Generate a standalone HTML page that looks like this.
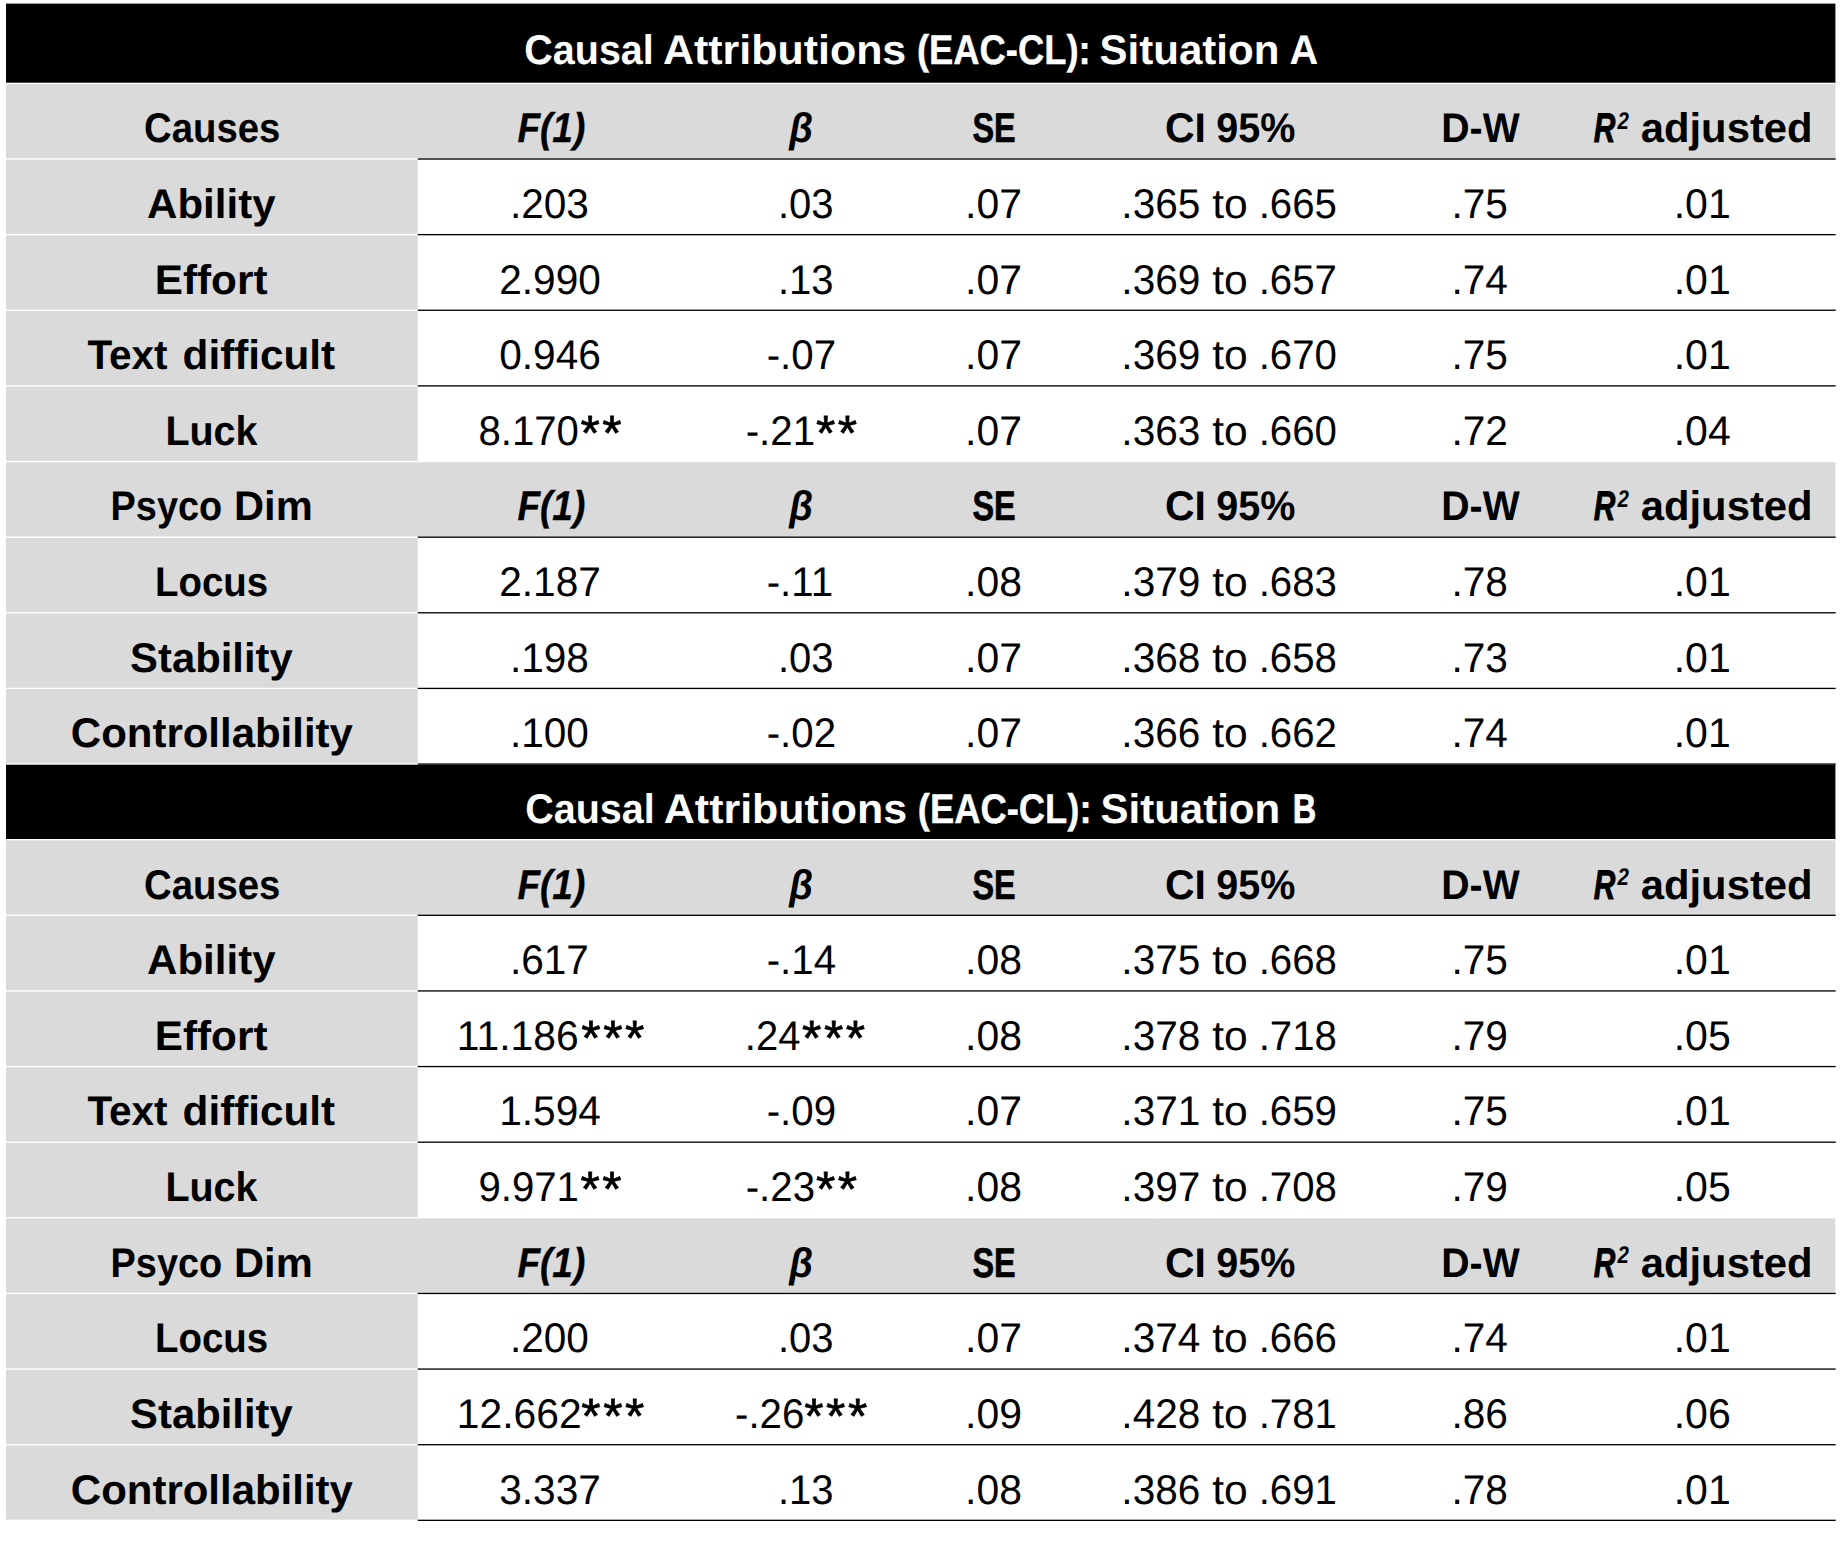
<!DOCTYPE html>
<html lang="en"><head><meta charset="utf-8"><title>Causal Attributions (EAC-CL)</title>
<style>html,body{margin:0;padding:0;background:#fff}body{width:1842px;height:1543px;overflow:hidden}svg{display:block}text{font-family:"Liberation Sans","DejaVu Sans",sans-serif;font-size:41.4px;fill:#000;white-space:pre;text-rendering:geometricPrecision}.b{font-weight:700}.bi{font-weight:700;font-style:italic}.w{fill:#fff}.st{font-size:49.6px;stroke:#000;stroke-width:.7px}.sup{font-size:24px}.k{stroke:currentColor}.w .k{stroke:#fff}</style></head><body>
<svg width="1842" height="1543" viewBox="0 0 1842 1543">
<g shape-rendering="auto">
<rect x="6" y="3.60" width="1829.4" height="79.77" fill="#000"/>
<rect x="6" y="83.37" width="1829.4" height="75.63" fill="#dadada"/>
<rect x="6" y="159.00" width="411.75" height="75.63" fill="#dadada"/>
<rect x="6" y="234.63" width="411.75" height="75.63" fill="#dadada"/>
<rect x="6" y="310.26" width="411.75" height="75.63" fill="#dadada"/>
<rect x="6" y="385.89" width="411.75" height="75.63" fill="#dadada"/>
<rect x="6" y="461.52" width="1829.4" height="75.63" fill="#dadada"/>
<rect x="6" y="537.15" width="411.75" height="75.63" fill="#dadada"/>
<rect x="6" y="612.78" width="411.75" height="75.63" fill="#dadada"/>
<rect x="6" y="688.41" width="411.75" height="75.63" fill="#dadada"/>
<rect x="6" y="764.04" width="1829.4" height="75.63" fill="#000"/>
<rect x="6" y="839.67" width="1829.4" height="75.63" fill="#dadada"/>
<rect x="6" y="915.30" width="411.75" height="75.63" fill="#dadada"/>
<rect x="6" y="990.93" width="411.75" height="75.63" fill="#dadada"/>
<rect x="6" y="1066.56" width="411.75" height="75.63" fill="#dadada"/>
<rect x="6" y="1142.19" width="411.75" height="75.63" fill="#dadada"/>
<rect x="6" y="1217.82" width="1829.4" height="75.63" fill="#dadada"/>
<rect x="6" y="1293.45" width="411.75" height="75.63" fill="#dadada"/>
<rect x="6" y="1369.08" width="411.75" height="75.63" fill="#dadada"/>
<rect x="6" y="1444.71" width="411.75" height="75.63" fill="#dadada"/>
<rect x="6" y="82.70" width="1829.4" height="1.33" fill="#fff"/>
<rect x="6" y="158.34" width="1829.4" height="1.33" fill="#fff"/>
<rect x="417.75" y="158.34" width="1417.95" height="1.33" fill="#000"/>
<rect x="6" y="233.97" width="1829.4" height="1.33" fill="#fff"/>
<rect x="417.75" y="233.97" width="1417.95" height="1.33" fill="#000"/>
<rect x="6" y="309.59" width="1829.4" height="1.33" fill="#fff"/>
<rect x="417.75" y="309.59" width="1417.95" height="1.33" fill="#000"/>
<rect x="6" y="385.22" width="1829.4" height="1.33" fill="#fff"/>
<rect x="417.75" y="385.22" width="1417.95" height="1.33" fill="#000"/>
<rect x="6" y="460.85" width="1829.4" height="1.33" fill="#fff"/>
<rect x="6" y="536.49" width="1829.4" height="1.33" fill="#fff"/>
<rect x="417.75" y="536.49" width="1417.95" height="1.33" fill="#000"/>
<rect x="6" y="612.12" width="1829.4" height="1.33" fill="#fff"/>
<rect x="417.75" y="612.12" width="1417.95" height="1.33" fill="#000"/>
<rect x="6" y="687.75" width="1829.4" height="1.33" fill="#fff"/>
<rect x="417.75" y="687.75" width="1417.95" height="1.33" fill="#000"/>
<rect x="6" y="763.38" width="1829.4" height="1.33" fill="#fff"/>
<rect x="417.75" y="763.38" width="1417.95" height="1.33" fill="#000"/>
<rect x="6" y="839.00" width="1829.4" height="1.33" fill="#fff"/>
<rect x="6" y="914.63" width="1829.4" height="1.33" fill="#fff"/>
<rect x="417.75" y="914.63" width="1417.95" height="1.33" fill="#000"/>
<rect x="6" y="990.26" width="1829.4" height="1.33" fill="#fff"/>
<rect x="417.75" y="990.26" width="1417.95" height="1.33" fill="#000"/>
<rect x="6" y="1065.89" width="1829.4" height="1.33" fill="#fff"/>
<rect x="417.75" y="1065.89" width="1417.95" height="1.33" fill="#000"/>
<rect x="6" y="1141.53" width="1829.4" height="1.33" fill="#fff"/>
<rect x="417.75" y="1141.53" width="1417.95" height="1.33" fill="#000"/>
<rect x="6" y="1217.15" width="1829.4" height="1.33" fill="#fff"/>
<rect x="6" y="1292.78" width="1829.4" height="1.33" fill="#fff"/>
<rect x="417.75" y="1292.78" width="1417.95" height="1.33" fill="#000"/>
<rect x="6" y="1368.41" width="1829.4" height="1.33" fill="#fff"/>
<rect x="417.75" y="1368.41" width="1417.95" height="1.33" fill="#000"/>
<rect x="6" y="1444.05" width="1829.4" height="1.33" fill="#fff"/>
<rect x="417.75" y="1444.05" width="1417.95" height="1.33" fill="#000"/>
<rect x="6" y="1519.67" width="1829.4" height="1.33" fill="#fff"/>
<rect x="417.75" y="1519.67" width="1417.95" height="1.33" fill="#000"/>
</g>
<text class="b w" y="63.70"><tspan x="524.25" textLength="129.54" lengthAdjust="spacingAndGlyphs">Causal</tspan> <tspan x="662.96" textLength="243.30" lengthAdjust="spacingAndGlyphs">Attributions</tspan> <tspan x="916.94" textLength="173.68" lengthAdjust="spacingAndGlyphs" stroke-width="0.39" class="k">(EAC-CL):</tspan> <tspan x="1099.58" textLength="179.73" lengthAdjust="spacingAndGlyphs">Situation</tspan> <tspan x="1289.44" textLength="28.72" lengthAdjust="spacingAndGlyphs">A</tspan></text>
<text class="b" y="142.30"><tspan x="144.07" textLength="136.27" lengthAdjust="spacingAndGlyphs">Causes</tspan></text>
<text class="bi" y="142.30"><tspan x="517.40" textLength="67.90" lengthAdjust="spacingAndGlyphs" stroke-width="0.34" class="k">F(1)</tspan></text>
<text class="bi" y="142.30"><tspan x="789.32" textLength="23.71" lengthAdjust="spacingAndGlyphs">β</tspan></text>
<text class="b" y="142.30"><tspan x="972.42" textLength="43.24" lengthAdjust="spacingAndGlyphs" stroke-width="0.69" class="k">SE</tspan></text>
<text class="b" y="142.30"><tspan x="1165.01" textLength="40.96" lengthAdjust="spacingAndGlyphs">CI</tspan> <tspan x="1216.24" textLength="79.12" lengthAdjust="spacingAndGlyphs">95%</tspan></text>
<text class="b" y="142.30"><tspan x="1441.30" textLength="78.41" lengthAdjust="spacingAndGlyphs">D-W</tspan></text>
<text class="b" y="142.30"><tspan x="1593.80" textLength="21.62" lengthAdjust="spacingAndGlyphs" class="bi" stroke-width="0.89" stroke="#000">R</tspan><tspan class="bi sup" x="1617.45" y="129.00" textLength="11.39" lengthAdjust="spacingAndGlyphs">2</tspan> <tspan x="1640.69" y="142.30" textLength="171.92" lengthAdjust="spacingAndGlyphs">adjusted</tspan></text>
<text class="b" y="217.93"><tspan x="147.08" textLength="128.44" lengthAdjust="spacingAndGlyphs">Ability</tspan></text>
<text y="217.93"><tspan x="509.96" textLength="78.94" lengthAdjust="spacingAndGlyphs">.203</tspan></text>
<text y="217.93"><tspan x="778.00" textLength="55.58" lengthAdjust="spacingAndGlyphs">.03</tspan></text>
<text y="217.93"><tspan x="965.04" textLength="56.86" lengthAdjust="spacingAndGlyphs">.07</tspan></text>
<text y="217.93"><tspan x="1121.36" textLength="78.94" lengthAdjust="spacingAndGlyphs">.365</tspan> <tspan x="1212.20" textLength="35.55" lengthAdjust="spacingAndGlyphs">to</tspan> <tspan x="1258.69" textLength="78.20" lengthAdjust="spacingAndGlyphs">.665</tspan></text>
<text y="217.93"><tspan x="1451.46" textLength="56.44" lengthAdjust="spacingAndGlyphs">.75</tspan></text>
<text y="217.93"><tspan x="1673.73" textLength="56.98" lengthAdjust="spacingAndGlyphs">.01</tspan></text>
<text class="b" y="293.56"><tspan x="154.76" textLength="112.72" lengthAdjust="spacingAndGlyphs">Effort</tspan></text>
<text y="293.56"><tspan x="499.24" textLength="101.56" lengthAdjust="spacingAndGlyphs">2.990</tspan></text>
<text y="293.56"><tspan x="778.00" textLength="55.58" lengthAdjust="spacingAndGlyphs">.13</tspan></text>
<text y="293.56"><tspan x="965.04" textLength="56.86" lengthAdjust="spacingAndGlyphs">.07</tspan></text>
<text y="293.56"><tspan x="1121.36" textLength="78.94" lengthAdjust="spacingAndGlyphs">.369</tspan> <tspan x="1212.20" textLength="35.55" lengthAdjust="spacingAndGlyphs">to</tspan> <tspan x="1258.69" textLength="78.20" lengthAdjust="spacingAndGlyphs">.657</tspan></text>
<text y="293.56"><tspan x="1451.46" textLength="56.44" lengthAdjust="spacingAndGlyphs">.74</tspan></text>
<text y="293.56"><tspan x="1673.73" textLength="56.98" lengthAdjust="spacingAndGlyphs">.01</tspan></text>
<text class="b" y="369.19"><tspan x="87.40" textLength="80.19" lengthAdjust="spacingAndGlyphs">Text</tspan> <tspan x="182.58" textLength="152.60" lengthAdjust="spacingAndGlyphs">difficult</tspan></text>
<text y="369.19"><tspan x="499.24" textLength="101.56" lengthAdjust="spacingAndGlyphs">0.946</tspan></text>
<text y="369.19"><tspan x="766.73" textLength="69.34" lengthAdjust="spacingAndGlyphs">-.07</tspan></text>
<text y="369.19"><tspan x="965.04" textLength="56.86" lengthAdjust="spacingAndGlyphs">.07</tspan></text>
<text y="369.19"><tspan x="1121.36" textLength="78.94" lengthAdjust="spacingAndGlyphs">.369</tspan> <tspan x="1212.20" textLength="35.55" lengthAdjust="spacingAndGlyphs">to</tspan> <tspan x="1258.69" textLength="78.20" lengthAdjust="spacingAndGlyphs">.670</tspan></text>
<text y="369.19"><tspan x="1451.46" textLength="56.44" lengthAdjust="spacingAndGlyphs">.75</tspan></text>
<text y="369.19"><tspan x="1673.73" textLength="56.98" lengthAdjust="spacingAndGlyphs">.01</tspan></text>
<text class="b" y="444.82"><tspan x="165.39" textLength="92.17" lengthAdjust="spacingAndGlyphs">Luck</tspan></text>
<text y="444.82"><tspan x="478.53" textLength="100.36" lengthAdjust="spacingAndGlyphs">8.170</tspan><tspan class="st" x="580.45 602.35" y="449.57">**</tspan></text>
<text y="444.82"><tspan x="745.73" textLength="69.34" lengthAdjust="spacingAndGlyphs">-.21</tspan><tspan class="st" x="815.95 837.85" y="449.57">**</tspan></text>
<text y="444.82"><tspan x="965.04" textLength="56.86" lengthAdjust="spacingAndGlyphs">.07</tspan></text>
<text y="444.82"><tspan x="1121.36" textLength="78.94" lengthAdjust="spacingAndGlyphs">.363</tspan> <tspan x="1212.20" textLength="35.55" lengthAdjust="spacingAndGlyphs">to</tspan> <tspan x="1258.69" textLength="78.20" lengthAdjust="spacingAndGlyphs">.660</tspan></text>
<text y="444.82"><tspan x="1451.46" textLength="56.44" lengthAdjust="spacingAndGlyphs">.72</tspan></text>
<text y="444.82"><tspan x="1673.73" textLength="56.98" lengthAdjust="spacingAndGlyphs">.04</tspan></text>
<text class="b" y="520.45"><tspan x="110.57" textLength="111.60" lengthAdjust="spacingAndGlyphs">Psyco</tspan> <tspan x="233.99" textLength="78.73" lengthAdjust="spacingAndGlyphs">Dim</tspan></text>
<text class="bi" y="520.45"><tspan x="517.40" textLength="67.90" lengthAdjust="spacingAndGlyphs" stroke-width="0.34" class="k">F(1)</tspan></text>
<text class="bi" y="520.45"><tspan x="789.32" textLength="23.71" lengthAdjust="spacingAndGlyphs">β</tspan></text>
<text class="b" y="520.45"><tspan x="972.42" textLength="43.24" lengthAdjust="spacingAndGlyphs" stroke-width="0.69" class="k">SE</tspan></text>
<text class="b" y="520.45"><tspan x="1165.01" textLength="40.96" lengthAdjust="spacingAndGlyphs">CI</tspan> <tspan x="1216.24" textLength="79.12" lengthAdjust="spacingAndGlyphs">95%</tspan></text>
<text class="b" y="520.45"><tspan x="1441.30" textLength="78.41" lengthAdjust="spacingAndGlyphs">D-W</tspan></text>
<text class="b" y="520.45"><tspan x="1593.80" textLength="21.62" lengthAdjust="spacingAndGlyphs" class="bi" stroke-width="0.89" stroke="#000">R</tspan><tspan class="bi sup" x="1617.45" y="507.15" textLength="11.39" lengthAdjust="spacingAndGlyphs">2</tspan> <tspan x="1640.69" y="520.45" textLength="171.92" lengthAdjust="spacingAndGlyphs">adjusted</tspan></text>
<text class="b" y="596.08"><tspan x="154.94" textLength="113.20" lengthAdjust="spacingAndGlyphs">Locus</tspan></text>
<text y="596.08"><tspan x="499.24" textLength="101.56" lengthAdjust="spacingAndGlyphs">2.187</tspan></text>
<text y="596.08"><tspan x="766.73" textLength="66.35" lengthAdjust="spacingAndGlyphs">-.11</tspan></text>
<text y="596.08"><tspan x="965.04" textLength="56.86" lengthAdjust="spacingAndGlyphs">.08</tspan></text>
<text y="596.08"><tspan x="1121.36" textLength="78.94" lengthAdjust="spacingAndGlyphs">.379</tspan> <tspan x="1212.20" textLength="35.55" lengthAdjust="spacingAndGlyphs">to</tspan> <tspan x="1258.69" textLength="78.20" lengthAdjust="spacingAndGlyphs">.683</tspan></text>
<text y="596.08"><tspan x="1451.46" textLength="56.44" lengthAdjust="spacingAndGlyphs">.78</tspan></text>
<text y="596.08"><tspan x="1673.73" textLength="56.98" lengthAdjust="spacingAndGlyphs">.01</tspan></text>
<text class="b" y="671.71"><tspan x="130.09" textLength="162.63" lengthAdjust="spacingAndGlyphs">Stability</tspan></text>
<text y="671.71"><tspan x="509.96" textLength="78.94" lengthAdjust="spacingAndGlyphs">.198</tspan></text>
<text y="671.71"><tspan x="778.00" textLength="55.58" lengthAdjust="spacingAndGlyphs">.03</tspan></text>
<text y="671.71"><tspan x="965.04" textLength="56.86" lengthAdjust="spacingAndGlyphs">.07</tspan></text>
<text y="671.71"><tspan x="1121.36" textLength="78.94" lengthAdjust="spacingAndGlyphs">.368</tspan> <tspan x="1212.20" textLength="35.55" lengthAdjust="spacingAndGlyphs">to</tspan> <tspan x="1258.69" textLength="78.20" lengthAdjust="spacingAndGlyphs">.658</tspan></text>
<text y="671.71"><tspan x="1451.46" textLength="56.44" lengthAdjust="spacingAndGlyphs">.73</tspan></text>
<text y="671.71"><tspan x="1673.73" textLength="56.98" lengthAdjust="spacingAndGlyphs">.01</tspan></text>
<text class="b" y="747.34"><tspan x="70.89" textLength="282.03" lengthAdjust="spacingAndGlyphs">Controllability</tspan></text>
<text y="747.34"><tspan x="509.96" textLength="78.94" lengthAdjust="spacingAndGlyphs">.100</tspan></text>
<text y="747.34"><tspan x="766.73" textLength="69.34" lengthAdjust="spacingAndGlyphs">-.02</tspan></text>
<text y="747.34"><tspan x="965.04" textLength="56.86" lengthAdjust="spacingAndGlyphs">.07</tspan></text>
<text y="747.34"><tspan x="1121.36" textLength="78.94" lengthAdjust="spacingAndGlyphs">.366</tspan> <tspan x="1212.20" textLength="35.55" lengthAdjust="spacingAndGlyphs">to</tspan> <tspan x="1258.69" textLength="78.20" lengthAdjust="spacingAndGlyphs">.662</tspan></text>
<text y="747.34"><tspan x="1451.46" textLength="56.44" lengthAdjust="spacingAndGlyphs">.74</tspan></text>
<text y="747.34"><tspan x="1673.73" textLength="56.98" lengthAdjust="spacingAndGlyphs">.01</tspan></text>
<text class="b w" y="822.97"><tspan x="525.15" textLength="129.54" lengthAdjust="spacingAndGlyphs">Causal</tspan> <tspan x="663.86" textLength="243.30" lengthAdjust="spacingAndGlyphs">Attributions</tspan> <tspan x="917.84" textLength="173.68" lengthAdjust="spacingAndGlyphs" stroke-width="0.39" class="k">(EAC-CL):</tspan> <tspan x="1100.48" textLength="179.73" lengthAdjust="spacingAndGlyphs">Situation</tspan> <tspan x="1292.63" textLength="23.47" lengthAdjust="spacingAndGlyphs" stroke-width="0.69" class="k">B</tspan></text>
<text class="b" y="898.60"><tspan x="144.07" textLength="136.27" lengthAdjust="spacingAndGlyphs">Causes</tspan></text>
<text class="bi" y="898.60"><tspan x="517.40" textLength="67.90" lengthAdjust="spacingAndGlyphs" stroke-width="0.34" class="k">F(1)</tspan></text>
<text class="bi" y="898.60"><tspan x="789.32" textLength="23.71" lengthAdjust="spacingAndGlyphs">β</tspan></text>
<text class="b" y="898.60"><tspan x="972.42" textLength="43.24" lengthAdjust="spacingAndGlyphs" stroke-width="0.69" class="k">SE</tspan></text>
<text class="b" y="898.60"><tspan x="1165.01" textLength="40.96" lengthAdjust="spacingAndGlyphs">CI</tspan> <tspan x="1216.24" textLength="79.12" lengthAdjust="spacingAndGlyphs">95%</tspan></text>
<text class="b" y="898.60"><tspan x="1441.30" textLength="78.41" lengthAdjust="spacingAndGlyphs">D-W</tspan></text>
<text class="b" y="898.60"><tspan x="1593.80" textLength="21.62" lengthAdjust="spacingAndGlyphs" class="bi" stroke-width="0.89" stroke="#000">R</tspan><tspan class="bi sup" x="1617.45" y="885.30" textLength="11.39" lengthAdjust="spacingAndGlyphs">2</tspan> <tspan x="1640.69" y="898.60" textLength="171.92" lengthAdjust="spacingAndGlyphs">adjusted</tspan></text>
<text class="b" y="974.23"><tspan x="147.08" textLength="128.44" lengthAdjust="spacingAndGlyphs">Ability</tspan></text>
<text y="974.23"><tspan x="509.96" textLength="78.94" lengthAdjust="spacingAndGlyphs">.617</tspan></text>
<text y="974.23"><tspan x="766.73" textLength="69.34" lengthAdjust="spacingAndGlyphs">-.14</tspan></text>
<text y="974.23"><tspan x="965.04" textLength="56.86" lengthAdjust="spacingAndGlyphs">.08</tspan></text>
<text y="974.23"><tspan x="1121.36" textLength="78.94" lengthAdjust="spacingAndGlyphs">.375</tspan> <tspan x="1212.20" textLength="35.55" lengthAdjust="spacingAndGlyphs">to</tspan> <tspan x="1258.69" textLength="78.20" lengthAdjust="spacingAndGlyphs">.668</tspan></text>
<text y="974.23"><tspan x="1451.46" textLength="56.44" lengthAdjust="spacingAndGlyphs">.75</tspan></text>
<text y="974.23"><tspan x="1673.73" textLength="56.98" lengthAdjust="spacingAndGlyphs">.01</tspan></text>
<text class="b" y="1049.86"><tspan x="154.76" textLength="112.72" lengthAdjust="spacingAndGlyphs">Effort</tspan></text>
<text y="1049.86"><tspan x="456.84" textLength="121.76" lengthAdjust="spacingAndGlyphs">11.186</tspan><tspan class="st" x="581.25 603.15 625.05" y="1054.61">***</tspan></text>
<text y="1049.86"><tspan x="744.80" textLength="55.58" lengthAdjust="spacingAndGlyphs">.24</tspan><tspan class="st" x="802.05 823.95 845.85" y="1054.61">***</tspan></text>
<text y="1049.86"><tspan x="965.04" textLength="56.86" lengthAdjust="spacingAndGlyphs">.08</tspan></text>
<text y="1049.86"><tspan x="1121.36" textLength="78.94" lengthAdjust="spacingAndGlyphs">.378</tspan> <tspan x="1212.20" textLength="35.55" lengthAdjust="spacingAndGlyphs">to</tspan> <tspan x="1258.69" textLength="78.20" lengthAdjust="spacingAndGlyphs">.718</tspan></text>
<text y="1049.86"><tspan x="1451.46" textLength="56.44" lengthAdjust="spacingAndGlyphs">.79</tspan></text>
<text y="1049.86"><tspan x="1673.73" textLength="56.98" lengthAdjust="spacingAndGlyphs">.05</tspan></text>
<text class="b" y="1125.49"><tspan x="87.40" textLength="80.19" lengthAdjust="spacingAndGlyphs">Text</tspan> <tspan x="182.58" textLength="152.60" lengthAdjust="spacingAndGlyphs">difficult</tspan></text>
<text y="1125.49"><tspan x="499.24" textLength="101.56" lengthAdjust="spacingAndGlyphs">1.594</tspan></text>
<text y="1125.49"><tspan x="766.73" textLength="69.34" lengthAdjust="spacingAndGlyphs">-.09</tspan></text>
<text y="1125.49"><tspan x="965.04" textLength="56.86" lengthAdjust="spacingAndGlyphs">.07</tspan></text>
<text y="1125.49"><tspan x="1121.36" textLength="78.94" lengthAdjust="spacingAndGlyphs">.371</tspan> <tspan x="1212.20" textLength="35.55" lengthAdjust="spacingAndGlyphs">to</tspan> <tspan x="1258.69" textLength="78.20" lengthAdjust="spacingAndGlyphs">.659</tspan></text>
<text y="1125.49"><tspan x="1451.46" textLength="56.44" lengthAdjust="spacingAndGlyphs">.75</tspan></text>
<text y="1125.49"><tspan x="1673.73" textLength="56.98" lengthAdjust="spacingAndGlyphs">.01</tspan></text>
<text class="b" y="1201.12"><tspan x="165.39" textLength="92.17" lengthAdjust="spacingAndGlyphs">Luck</tspan></text>
<text y="1201.12"><tspan x="478.53" textLength="100.36" lengthAdjust="spacingAndGlyphs">9.971</tspan><tspan class="st" x="580.45 602.35" y="1205.87">**</tspan></text>
<text y="1201.12"><tspan x="745.73" textLength="69.34" lengthAdjust="spacingAndGlyphs">-.23</tspan><tspan class="st" x="815.95 837.85" y="1205.87">**</tspan></text>
<text y="1201.12"><tspan x="965.04" textLength="56.86" lengthAdjust="spacingAndGlyphs">.08</tspan></text>
<text y="1201.12"><tspan x="1121.36" textLength="78.94" lengthAdjust="spacingAndGlyphs">.397</tspan> <tspan x="1212.20" textLength="35.55" lengthAdjust="spacingAndGlyphs">to</tspan> <tspan x="1258.69" textLength="78.20" lengthAdjust="spacingAndGlyphs">.708</tspan></text>
<text y="1201.12"><tspan x="1451.46" textLength="56.44" lengthAdjust="spacingAndGlyphs">.79</tspan></text>
<text y="1201.12"><tspan x="1673.73" textLength="56.98" lengthAdjust="spacingAndGlyphs">.05</tspan></text>
<text class="b" y="1276.75"><tspan x="110.57" textLength="111.60" lengthAdjust="spacingAndGlyphs">Psyco</tspan> <tspan x="233.99" textLength="78.73" lengthAdjust="spacingAndGlyphs">Dim</tspan></text>
<text class="bi" y="1276.75"><tspan x="517.40" textLength="67.90" lengthAdjust="spacingAndGlyphs" stroke-width="0.34" class="k">F(1)</tspan></text>
<text class="bi" y="1276.75"><tspan x="789.32" textLength="23.71" lengthAdjust="spacingAndGlyphs">β</tspan></text>
<text class="b" y="1276.75"><tspan x="972.42" textLength="43.24" lengthAdjust="spacingAndGlyphs" stroke-width="0.69" class="k">SE</tspan></text>
<text class="b" y="1276.75"><tspan x="1165.01" textLength="40.96" lengthAdjust="spacingAndGlyphs">CI</tspan> <tspan x="1216.24" textLength="79.12" lengthAdjust="spacingAndGlyphs">95%</tspan></text>
<text class="b" y="1276.75"><tspan x="1441.30" textLength="78.41" lengthAdjust="spacingAndGlyphs">D-W</tspan></text>
<text class="b" y="1276.75"><tspan x="1593.80" textLength="21.62" lengthAdjust="spacingAndGlyphs" class="bi" stroke-width="0.89" stroke="#000">R</tspan><tspan class="bi sup" x="1617.45" y="1263.45" textLength="11.39" lengthAdjust="spacingAndGlyphs">2</tspan> <tspan x="1640.69" y="1276.75" textLength="171.92" lengthAdjust="spacingAndGlyphs">adjusted</tspan></text>
<text class="b" y="1352.38"><tspan x="154.94" textLength="113.20" lengthAdjust="spacingAndGlyphs">Locus</tspan></text>
<text y="1352.38"><tspan x="509.96" textLength="78.94" lengthAdjust="spacingAndGlyphs">.200</tspan></text>
<text y="1352.38"><tspan x="778.00" textLength="55.58" lengthAdjust="spacingAndGlyphs">.03</tspan></text>
<text y="1352.38"><tspan x="965.04" textLength="56.86" lengthAdjust="spacingAndGlyphs">.07</tspan></text>
<text y="1352.38"><tspan x="1121.36" textLength="78.94" lengthAdjust="spacingAndGlyphs">.374</tspan> <tspan x="1212.20" textLength="35.55" lengthAdjust="spacingAndGlyphs">to</tspan> <tspan x="1258.69" textLength="78.20" lengthAdjust="spacingAndGlyphs">.666</tspan></text>
<text y="1352.38"><tspan x="1451.46" textLength="56.44" lengthAdjust="spacingAndGlyphs">.74</tspan></text>
<text y="1352.38"><tspan x="1673.73" textLength="56.98" lengthAdjust="spacingAndGlyphs">.01</tspan></text>
<text class="b" y="1428.01"><tspan x="130.09" textLength="162.63" lengthAdjust="spacingAndGlyphs">Stability</tspan></text>
<text y="1428.01"><tspan x="456.84" textLength="124.79" lengthAdjust="spacingAndGlyphs">12.662</tspan><tspan class="st" x="581.25 603.15 625.05" y="1432.76">***</tspan></text>
<text y="1428.01"><tspan x="735.03" textLength="69.34" lengthAdjust="spacingAndGlyphs">-.26</tspan><tspan class="st" x="804.15 826.05 847.95" y="1432.76">***</tspan></text>
<text y="1428.01"><tspan x="965.04" textLength="56.86" lengthAdjust="spacingAndGlyphs">.09</tspan></text>
<text y="1428.01"><tspan x="1121.36" textLength="78.94" lengthAdjust="spacingAndGlyphs">.428</tspan> <tspan x="1212.20" textLength="35.55" lengthAdjust="spacingAndGlyphs">to</tspan> <tspan x="1258.69" textLength="78.20" lengthAdjust="spacingAndGlyphs">.781</tspan></text>
<text y="1428.01"><tspan x="1451.46" textLength="56.44" lengthAdjust="spacingAndGlyphs">.86</tspan></text>
<text y="1428.01"><tspan x="1673.73" textLength="56.98" lengthAdjust="spacingAndGlyphs">.06</tspan></text>
<text class="b" y="1503.64"><tspan x="70.89" textLength="282.03" lengthAdjust="spacingAndGlyphs">Controllability</tspan></text>
<text y="1503.64"><tspan x="499.24" textLength="101.56" lengthAdjust="spacingAndGlyphs">3.337</tspan></text>
<text y="1503.64"><tspan x="778.00" textLength="55.58" lengthAdjust="spacingAndGlyphs">.13</tspan></text>
<text y="1503.64"><tspan x="965.04" textLength="56.86" lengthAdjust="spacingAndGlyphs">.08</tspan></text>
<text y="1503.64"><tspan x="1121.36" textLength="78.94" lengthAdjust="spacingAndGlyphs">.386</tspan> <tspan x="1212.20" textLength="35.55" lengthAdjust="spacingAndGlyphs">to</tspan> <tspan x="1258.69" textLength="78.20" lengthAdjust="spacingAndGlyphs">.691</tspan></text>
<text y="1503.64"><tspan x="1451.46" textLength="56.44" lengthAdjust="spacingAndGlyphs">.78</tspan></text>
<text y="1503.64"><tspan x="1673.73" textLength="56.98" lengthAdjust="spacingAndGlyphs">.01</tspan></text>
</svg></body></html>
